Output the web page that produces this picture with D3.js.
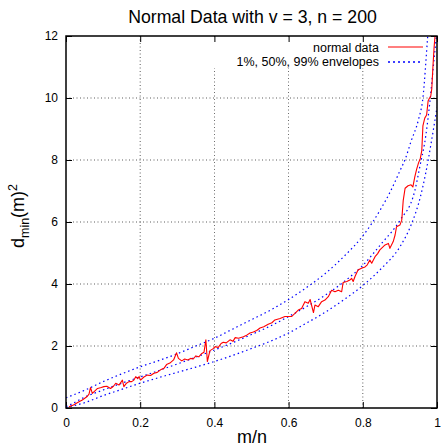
<!DOCTYPE html>
<html>
<head>
<meta charset="utf-8">
<script src="https://cdn.jsdelivr.net/npm/d3@7"></script>
<style>
body { margin:0; background:#fff; }
text { font-family: "Liberation Sans", Arial, sans-serif; fill:#000; }
</style>
</head>
<body>
<svg id="chart" width="441" height="448"></svg>
<script>
const title = "Normal Data with v = 3, n = 200";
const xTicks = [0, 0.2, 0.4, 0.6, 0.8, 1];
const xTickLabels = ["0", "0.2", "0.4", "0.6", "0.8", "1"];
const yTicks = [0, 2, 4, 6, 8, 10, 12];
const yTickLabels = ["0", "2", "4", "6", "8", "10", "12"];
const seriesNames = ["normal data", "1%, 50%, 99% envelopes"];

// observed d_min(m)^2 against m/n
const dataX = [0.008,0.02,0.035,0.044,0.057,0.062,0.066,0.071,0.078,0.085,0.095,0.102,0.11,0.12,0.128,0.134,0.143,0.152,0.156,0.163,0.17,0.177,0.183,0.188,0.193,0.197,0.201,0.21,0.219,0.228,0.237,0.246,0.255,0.264,
0.271,0.28,0.29,0.298,0.303,0.312,0.32,0.328,0.336,0.343,0.35,0.358,0.365,0.372,0.377,0.381,0.388,0.395,0.402,0.41,0.418,0.424,0.432,0.442,0.45,0.456,0.465,0.478,0.487,0.496,0.505,0.514,0.523,
0.533,0.545,0.555,0.563,0.577,0.59,0.608,0.617,0.626,0.635,0.644,0.653,0.658,0.667,0.671,0.68,0.689,0.698,0.707,0.716,0.725,0.734,0.743,0.747,0.757,0.765,0.77,0.774,0.779,
0.787,0.795,0.806,0.812,0.819,0.824,0.833,0.84,0.846,0.853,0.86,0.869,0.873,0.882,0.887,0.891,0.9,0.905,0.909,0.914,0.922,0.93,0.935,0.94,0.945,0.95,0.955,0.959,0.962,0.967,0.972,0.976,0.979,0.983,0.986,0.989,0.992,0.996,1.0];
const dataY = [0.04,0.1,0.2,0.26,0.37,0.45,0.66,0.47,0.55,0.63,0.66,0.69,0.7,0.63,0.7,0.8,0.74,0.9,0.69,0.8,0.85,0.85,0.9,1.01,0.95,1.01,0.9,1.0,1.06,1.05,1.12,1.15,1.23,1.28,
1.4,1.45,1.55,1.78,1.6,1.52,1.58,1.55,1.6,1.58,1.68,1.65,1.75,1.8,2.2,1.5,1.85,1.9,1.98,1.95,2.08,2.12,2.1,2.2,2.15,2.27,2.25,2.3,2.35,2.42,2.45,2.5,2.58,
2.62,2.7,2.75,2.84,2.89,2.95,2.95,3.05,3.16,3.21,3.43,3.38,3.5,3.08,3.32,3.27,3.43,3.48,3.59,3.8,3.75,3.8,3.75,4.05,4.08,4.13,4.18,4.08,4.24,
4.45,4.5,4.55,4.62,4.77,4.67,4.88,4.98,5.1,5.18,5.26,5.31,5.15,5.37,5.58,5.85,5.9,6.06,6.7,7.09,7.17,7.2,7.13,7.45,7.7,7.9,8.05,8.3,9.1,9.35,9.45,9.9,9.98,10.05,10.3,11.0,11.6,12.2,13.5];

// envelopes
const lowX = [0,0.05,0.1,0.15,0.2,0.25,0.3,0.35,0.4,0.45,0.5,0.55,0.6,0.65,0.7,0.75,0.8,0.85,0.9,0.93,0.955,0.97,0.985,1.0];
const lowY = [0.02,0.17,0.4,0.6,0.8,0.98,1.15,1.32,1.5,1.7,1.92,2.15,2.42,2.75,3.1,3.5,3.95,4.5,5.2,5.9,6.8,7.6,8.6,9.7];
const medX = [0,0.01,0.05,0.1,0.15,0.2,0.25,0.3,0.35,0.4,0.45,0.5,0.55,0.6,0.65,0.7,0.75,0.8,0.85,0.9,0.94,0.954,0.97,0.981,0.99,1.0];
const medY = [0.05,0.1,0.35,0.58,0.8,1.0,1.21,1.42,1.64,1.87,2.11,2.37,2.64,2.95,3.28,3.65,4.08,4.6,5.3,6.05,7.0,7.8,8.8,9.9,11.0,12.2];
const upX = [0,0.05,0.1,0.15,0.2,0.25,0.3,0.35,0.4,0.45,0.5,0.55,0.6,0.65,0.7,0.75,0.8,0.85,0.875,0.9,0.915,0.93,0.95,0.962,0.975,0.985];
const upY = [0.33,0.57,0.85,1.1,1.33,1.53,1.75,2.0,2.25,2.55,2.85,3.15,3.5,3.9,4.35,4.9,5.55,6.45,7.0,7.65,8.05,8.6,9.3,10.0,12.0,13.6];

const W = 441, H = 448;
const margin = {left:66, right:4, top:36, bottom:40};
const pw = W - margin.left - margin.right;
const ph = H - margin.top - margin.bottom;

const svg = d3.select("#chart");
const x = d3.scaleLinear().domain([0,1]).range([margin.left, margin.left+pw]);
const y = d3.scaleLinear().domain([0,12]).range([margin.top+ph, margin.top]);

svg.append("defs").append("clipPath").attr("id","clip")
  .append("rect").attr("x",margin.left).attr("y",margin.top).attr("width",pw).attr("height",ph);

// grid
const grid = svg.append("g");
xTicks.slice(1,-1).forEach(t => {
  grid.append("line").attr("x1",x(t)).attr("x2",x(t)).attr("y1",y(0)).attr("y2",y(12))
    .attr("stroke","#000").attr("stroke-width",0.8).attr("stroke-dasharray","1,2.5").attr("opacity",0.8);
});
yTicks.slice(1,-1).forEach(t => {
  grid.append("line").attr("x1",x(0)).attr("x2",x(1)).attr("y1",y(t)).attr("y2",y(t))
    .attr("stroke","#000").attr("stroke-width",0.8).attr("stroke-dasharray","1,2.5").attr("opacity",0.8);
});

// legend background (masks grid)
svg.append("rect").attr("x",x(0.22)).attr("y",margin.top+1).attr("width",x(1)-x(0.22)-1).attr("height",31).attr("fill","#fff");

// axes with inward ticks on all sides
const tl = 6;
const axB = svg.append("g").attr("transform",`translate(0,${y(0)})`)
  .call(d3.axisBottom(x).tickValues(xTicks).tickFormat((d,i)=>xTickLabels[i]).tickSizeInner(-tl).tickSizeOuter(0).tickPadding(10));
const axT = svg.append("g").attr("transform",`translate(0,${y(12)})`)
  .call(d3.axisTop(x).tickValues(xTicks).tickFormat("").tickSizeInner(-tl).tickSizeOuter(0));
const axL = svg.append("g").attr("transform",`translate(${x(0)},0)`)
  .call(d3.axisLeft(y).tickValues(yTicks).tickFormat((d,i)=>yTickLabels[i]).tickSizeInner(-tl).tickSizeOuter(0).tickPadding(8));
const axR = svg.append("g").attr("transform",`translate(${x(1)},0)`)
  .call(d3.axisRight(y).tickValues(yTicks).tickFormat("").tickSizeInner(-tl).tickSizeOuter(0));
[axB,axT,axL,axR].forEach(a => {
  a.select(".domain").remove();
  a.selectAll("line").attr("stroke","#000").attr("stroke-width",1);
  a.selectAll("text").attr("font-size","12px").attr("font-family","Liberation Sans, Arial, sans-serif").attr("fill","#000");
});

// curves
const plot = svg.append("g").attr("clip-path","url(#clip)");
const envLine = d3.line().x(d=>x(d[0])).y(d=>y(d[1])).curve(d3.curveMonotoneX);
[[lowX,lowY],[medX,medY],[upX,upY]].forEach(([xs,ys]) => {
  plot.append("path").datum(xs.map((v,i)=>[v,ys[i]])).attr("d",envLine)
    .attr("fill","none").attr("stroke","#0000ff").attr("stroke-width",1.2).attr("stroke-dasharray","1.5,3");
});
const dataLine = d3.line().x(d=>x(d[0])).y(d=>y(d[1]));
plot.append("path").datum(dataX.map((v,i)=>[v,dataY[i]])).attr("d",dataLine)
  .attr("fill","none").attr("stroke","#ff0000").attr("stroke-width",1.1).attr("stroke-linejoin","round");

// frame
svg.append("rect").attr("x",x(0)).attr("y",y(12)).attr("width",pw).attr("height",ph)
  .attr("fill","none").attr("stroke","#000").attr("stroke-width",1.5);

// legend
const lg = svg.append("g");
lg.append("text").attr("x",379).attr("y",51.5).attr("text-anchor","end").attr("font-size","12.5px").text(seriesNames[0]);
lg.append("line").attr("x1",388).attr("x2",423).attr("y1",47).attr("y2",47).attr("stroke","#ff0000").attr("stroke-width",1.1);
lg.append("text").attr("x",379).attr("y",66).attr("text-anchor","end").attr("font-size","12.5px").text(seriesNames[1]);
lg.append("line").attr("x1",388).attr("x2",423).attr("y1",62).attr("y2",62).attr("stroke","#0000ff").attr("stroke-width",1.3).attr("stroke-dasharray","2,3");

// title
svg.append("text").attr("x",252.5).attr("y",23.3).attr("text-anchor","middle").attr("font-size","17.7px").text(title);

// axis labels
svg.append("text").attr("x",252).attr("y",443).attr("text-anchor","middle").attr("font-size","18px").text("m/n");
const yl = svg.append("text").attr("transform","translate(24,216) rotate(-90)").attr("text-anchor","middle").attr("font-size","18px");
yl.append("tspan").text("d");
yl.append("tspan").attr("font-size","12.5px").attr("dy","5").text("min");
yl.append("tspan").attr("dy","-5").text("(m)");
yl.append("tspan").attr("font-size","12.5px").attr("dy","-7").text("2");
</script>
</body>
</html>
